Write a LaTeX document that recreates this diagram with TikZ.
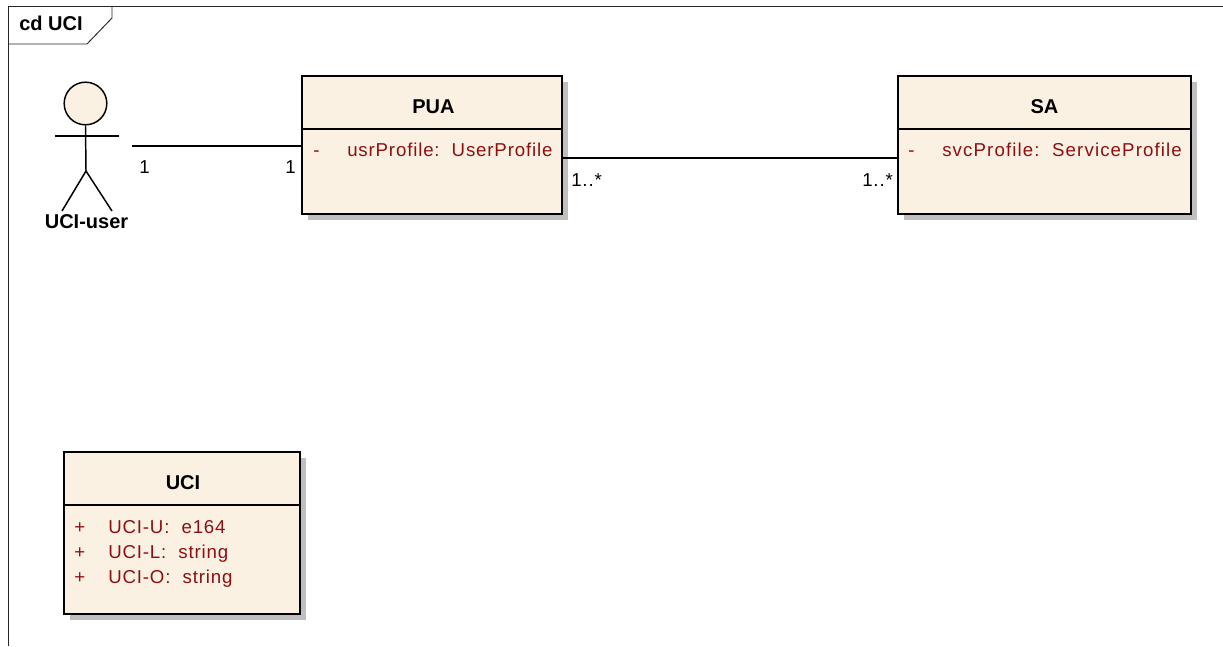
\documentclass[tikz,border=0pt]{standalone}
\usepackage{fontspec}
\setmainfont{Liberation Sans}
\newfontfamily\attrfont[LetterSpace=4.5]{Liberation Sans}
\newfontfamily\wideattrfont[LetterSpace=6]{Liberation Sans}
\usetikzlibrary{shadows}
\definecolor{boxfill}{HTML}{FBF1E3}
\definecolor{attrred}{HTML}{8E0F12}
\tikzset{
	classbox/.style={rectangle, fill=boxfill, line width=1.3pt, draw=black, inner sep=0pt, drop shadow={shadow xshift=4.5pt, shadow yshift=-4.5pt, fill=black!25, opacity=1}},
	classname/.style={font=\fontsize{15}{17}\selectfont\bfseries, inner sep=0pt},
	attr/.style={font=\attrfont\fontsize{14}{16}\selectfont, text=attrred, anchor=base west, inner sep=0pt},
	mult/.style={font=\attrfont\fontsize{14}{16}\selectfont, anchor=base west, inner sep=0pt},
	edge/.style={line width=1.1pt, draw=black},
	divider/.style={line width=1pt, draw=black},
	framelines/.style={line width=0.7pt, draw=black!85}
}
\begin{document}
\begin{tikzpicture}[x=0.75pt, y=-0.75pt]
	\useasboundingbox (0,0) rectangle (1223,646);
	% frame
	\coordinate (frameTL) at (8,6);
	\coordinate (frameTR) at (1223,6);
	\coordinate (frameBL) at (8,646);
	\coordinate (tagA) at (8,44);
	\coordinate (tagB) at (87,44);
	\coordinate (tagC) at (112,18);
	\coordinate (tagD) at (112,6);
	\draw[framelines] (frameBL) -- (frameTL) -- (frameTR);
	\draw[framelines] (tagA) -- (tagB) -- (tagC) -- (tagD);
	\node[classname, anchor=base west](title) at (19,31){cd UCI};
	% actor
	\node[circle, fill=boxfill, line width=1.1pt, draw=black, minimum size=32pt, inner sep=0pt](head) at (85.5,103.5){};
	\coordinate (armL) at (55,136);
	\coordinate (armR) at (119,136);
	\coordinate (hip) at (86,171);
	\coordinate (footL) at (62,211);
	\coordinate (footR) at (112,211);
	\draw[edge] (head.south) -- (hip);
	\draw[edge] (armL) -- (armR);
	\draw[edge] (footL) -- (hip) -- (footR);
	\node[classname, anchor=base](actorname) at (86.5,228.5){UCI-user};
	% classes
	\node[classbox, minimum width=195pt, minimum height=103.5pt](pua) at (432.2,145){};
	\node[classname](puaname) at (433.5,106.5){PUA};
	\draw[divider] ([yshift=-40.5pt]pua.north west) -- ([yshift=-40.5pt]pua.north east);
	\node[attr](puavis) at (313,156){-};
	\node[attr](puaattr) at (347,156){usrProfile:\ \ UserProfile};
	\node[classbox, minimum width=219.8pt, minimum height=103.5pt](sa) at (1044.5,145){};
	\node[classname](saname) at (1044.5,106.5){SA};
	\draw[divider] ([yshift=-40.5pt]sa.north west) -- ([yshift=-40.5pt]sa.north east);
	\node[attr](savis) at (908,156){-};
	\node[attr, font=\wideattrfont\fontsize{14}{16}\selectfont](saattr) at (942,156){svcProfile:\ \ ServiceProfile};
	\node[classbox, minimum width=177pt, minimum height=121.5pt](uci) at (182,533){};
	\node[classname](uciname) at (183,482.5){UCI};
	\draw[divider] ([yshift=-40.5pt]uci.north west) -- ([yshift=-40.5pt]uci.north east);
	\node[attr](uvis) at (74,533){+};
	\node[attr](uattr) at (108,533){UCI-U:\ \ e164};
	\node[attr](lvis) at (74,558){+};
	\node[attr](lattr) at (108,558){UCI-L:\ \ string};
	\node[attr](ovis) at (74,583){+};
	\node[attr](oattr) at (108,583){UCI-O:\ \ string};
	% associations
	\coordinate (actorend) at (132,146);
	\draw[edge] (actorend) -- (actorend -| pua.west);
	\coordinate (puaend) at (563,158);
	\draw[edge] (puaend) -- (puaend -| sa.west);
	\node[mult](m1) at (139,173){1};
	\node[mult](m2) at (285,173){1};
	\node[mult](m3) at (571,186){1..*};
	\node[mult](m4) at (862,186){1..*};
\end{tikzpicture}
\end{document}
